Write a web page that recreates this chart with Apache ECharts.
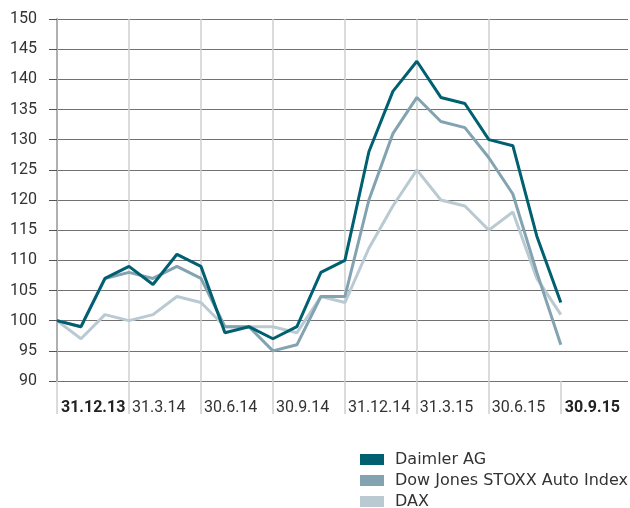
<!DOCTYPE html>
<html><head><meta charset="utf-8">
<script src="https://cdn.jsdelivr.net/npm/echarts@6/dist/echarts.min.js"></script>
<style>html,body{margin:0;padding:0;background:#fff}#c{width:630px;height:508px}</style>
</head><body><div id="c"></div>
<script>
const seriesNames = ['Daimler AG', 'Dow Jones STOXX Auto Index', 'DAX'];
const months = [0,1,2,3,4,5,6,7,8,9,10,11,12,13,14,15,16,17,18,19,20,21];
const daimler = [100,99,107,109,106,111,109,98,99,97,99,108,110,128,138,143,137,136,130,129,114,103];
const stoxx   = [100,99,107,108,107,109,107,99,99,95,96,104,104,120,131,137,133,132,127,121,108,96];
const dax     = [100,97,101,100,101,104,103,99,99,99,98,104,103,112,119,125,120,119,115,118,107,101];
const tickMonths = [0,3,6,9,12,15,18,21];
const tickLabels = ['31.12.13','31.3.14','30.6.14','30.9.14','31.12.14','31.3.15','30.6.15','30.9.15'];
const boldLabels = ['31.12.13','30.9.15'];
const colors = ['#005f70', '#83a3b1', '#b9cad2'];
const FONT = 'Roboto';

function pairs(vals){ return months.map((m,i)=>[m, vals[i]]); }

const chart = echarts.init(document.getElementById('c'), null, {renderer:'canvas'});
chart.setOption({
  animation:false,
  backgroundColor:'#fff',
  textStyle:{fontFamily:FONT},
  grid:{left:57, right:2, top:19, bottom:127, containLabel:false},
  legend:{
    orient:'vertical', left:360, top:451, height:80, padding:0, itemWidth:24, itemHeight:11, itemGap:4,
    icon:'rect', data:seriesNames,
    textStyle:{fontFamily:'"DejaVu Sans", sans-serif', fontSize:16, lineHeight:17, color:'#333', padding:[0,0,0,6]}
  },
  xAxis:{
    type:'value', min:0, max:23.8, interval:3,
    axisLine:{show:false},
    axisTick:{show:true, length:33, customValues:tickMonths, lineStyle:{color:'#cfcfcf', width:1.5}},
    splitLine:{show:true, showMaxLine:false, lineStyle:{color:'#cfcfcf', width:1.5}},
    axisLabel:{
      customValues:tickMonths, margin:19, align:'left', color:'#333', fontSize:16, fontFamily:FONT,
      formatter:function(v){
        const i = tickMonths.indexOf(Math.round(v));
        if(i<0) return '';
        const t = tickLabels[i];
        return boldLabels.includes(t) ? '{b|'+t+'}' : '{n|'+t+'}';
      },
      rich:{
        b:{fontWeight:'bold', fontSize:16, color:'#222', fontFamily:FONT, padding:[0,0,0,4]},
        n:{fontSize:16, color:'#333', fontFamily:FONT, padding:[0,0,0,3]}
      }
    }
  },
  yAxis:{
    type:'value', min:90, max:150, interval:5,
    axisLine:{show:true, onZero:false, lineStyle:{color:'#b0b0b0', width:2}},
    axisTick:{show:true, length:8, lineStyle:{color:'#555'}},
    splitLine:{show:true, lineStyle:{color:'#727272', width:1}},
    axisLabel:{margin:20, color:'#333', fontSize:16, fontFamily:FONT}
  },
  series:[
    {name:seriesNames[2], type:'line', data:pairs(dax), symbol:'none', lineStyle:{width:3, color:colors[2]}, itemStyle:{color:colors[2]}, z:2},
    {name:seriesNames[1], type:'line', data:pairs(stoxx), symbol:'none', lineStyle:{width:3, color:colors[1]}, itemStyle:{color:colors[1]}, z:3},
    {name:seriesNames[0], type:'line', data:pairs(daimler), symbol:'none', lineStyle:{width:3, color:colors[0]}, itemStyle:{color:colors[0]}, z:4}
  ]
});
</script></body></html>
